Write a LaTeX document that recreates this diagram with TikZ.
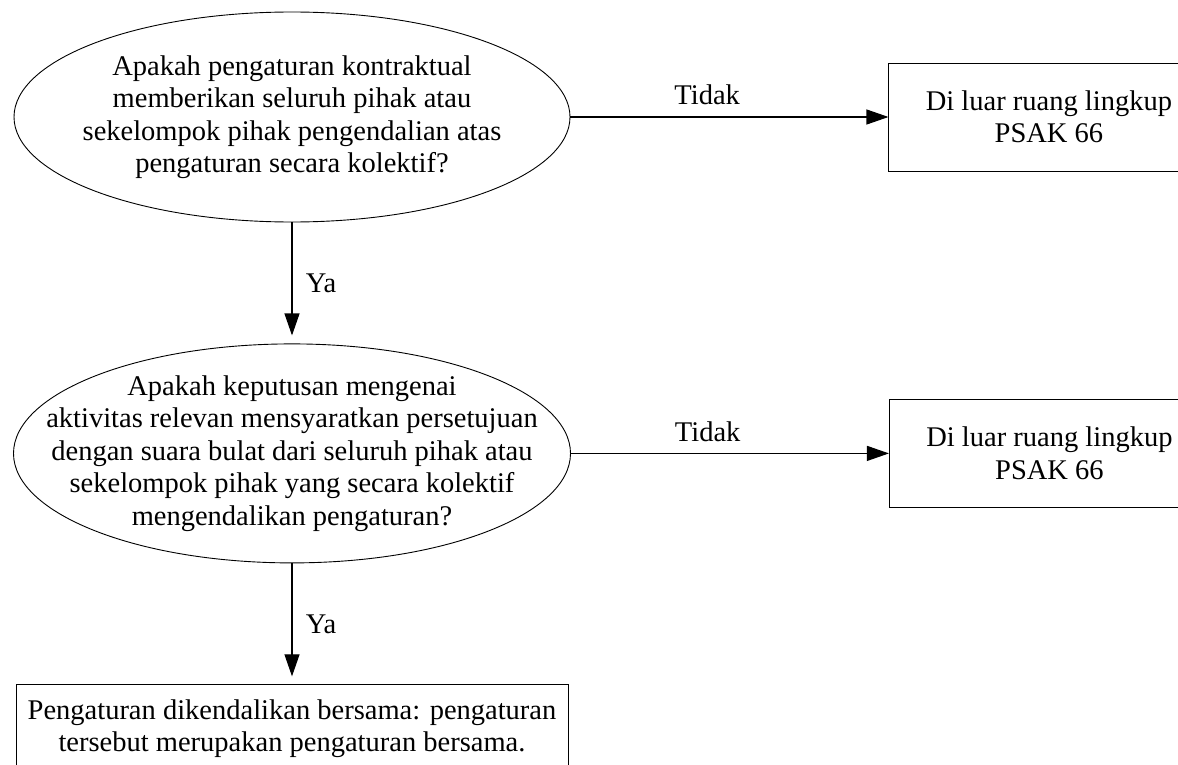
\documentclass[tikz,border=0pt]{standalone}
\usepackage{fontspec}
\setmainfont{Liberation Serif}
\usepackage{tikz}
\usetikzlibrary{shapes.geometric, arrows.meta, positioning}

\newcommand{\qfont}{\fontsize{28.5}{32.5}\selectfont}

\begin{document}
\begin{tikzpicture}[
    x=1pt, y=1pt,
    node distance=121pt and 318pt,
    question/.style={draw, ellipse, inner sep=0pt, minimum width=556pt, minimum height=210pt, line width=0.9pt},
    qtext/.style={align=center, font=\qfont},
    result/.style={draw, rectangle, minimum width=320pt, minimum height=108pt,
                align=center, font=\qfont, line width=0.9pt},
    arrow/.style={-{Triangle[length=22pt, width=15pt]}, line width=1.1pt},
    answer/.style={font=\qfont}
]

\useasboundingbox (0,0) rectangle (1178,-765);
\clip (0,0) rectangle (1178,-765);

% Questions
\node[question, label={[qtext]center:Apakah pengaturan kontraktual\\memberikan seluruh pihak atau\\sekelompok pihak pengendalian atas\\pengaturan secara kolektif?}] (ctrl) at (292,-117) {};
\node[question, minimum width=557pt, minimum height=219pt, below=121pt of ctrl,
    label={[qtext]center:Apakah keputusan mengenai\\aktivitas relevan mensyaratkan persetujuan\\dengan suara bulat dari seluruh pihak atau\\sekelompok pihak yang secara kolektif\\mengendalikan pengaturan?}] (unan) {};

% Outside scope
\node[result, right=318pt of ctrl] (scope1) {Di luar ruang lingkup\\PSAK 66};
\node[result, right=318pt of unan] (scope2) {Di luar ruang lingkup\\PSAK 66};

% Joint arrangement
\node[result, minimum width=552pt, minimum height=88pt, below=121pt of unan] (joint) {Pengaturan dikendalikan bersama: pengaturan\\tersebut merupakan pengaturan bersama.};

% Arrows
\draw[arrow] (ctrl) -- node[answer, above=8pt, pos=0.43] {Tidak} (scope1);
\draw[arrow] (unan) -- node[answer, above=8pt, pos=0.43] {Tidak} (scope2);
\draw[arrow, shorten >=8pt] (ctrl) -- node[answer, right=10pt] {Ya} (unan);
\draw[arrow, shorten >=8pt] (unan) -- node[answer, right=10pt] {Ya} (joint);

\end{tikzpicture}
\end{document}
